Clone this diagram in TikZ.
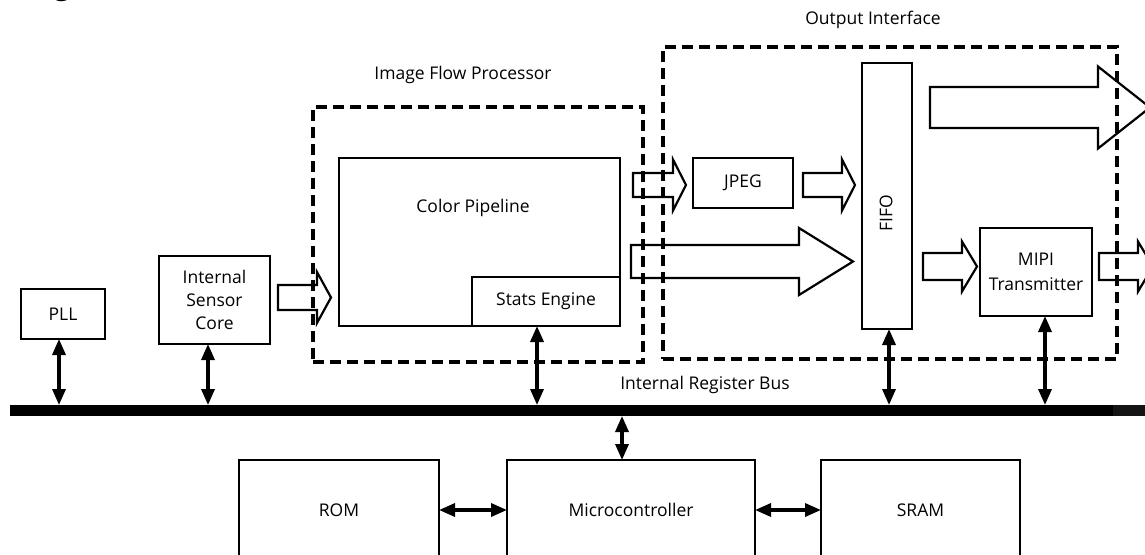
\documentclass[tikz,border=0pt]{standalone}
\usepackage{fontspec}
\setmainfont{Open Sans}
\usetikzlibrary{arrows.meta,calc}
\newcommand{\hollowarr}[5]{% #1 start, #2 tip, #3 shaft half, #4 head half, #5 head length
  \draw[hollow] ($(#1)+(0,-#3)$) -- ($(#2)+(-#5,-#3)$) -- ($(#2)+(-#5,-#4)$) -- (#2)
    -- ($(#2)+(-#5,#4)$) -- ($(#2)+(-#5,#3)$) -- ($(#1)+(0,#3)$) -- cycle;}
\begin{document}
\begin{tikzpicture}[x=1pt,y=-1pt,
  txt/.style={font=\fontsize{17.5}{23}\selectfont, inner sep=0pt, align=center},
  box/.style={draw, line width=2.2pt, inner sep=0pt, outer sep=0pt, align=center,
              font=\fontsize{17.5}{23}\selectfont},
  group/.style={draw, line width=3.6pt, dash pattern=on 11pt off 6pt, inner sep=0pt, outer sep=0pt},
  busarrow/.style={line width=3.4pt, {Triangle[length=16pt,width=13pt]}-{Triangle[length=16pt,width=13pt]}},
  hollow/.style={draw, line width=2.2pt, line join=miter}]
\useasboundingbox (0,0) rectangle (1145,554);

% fragment of title above the picture
\node[anchor=base, font=\fontsize{30}{32}\selectfont, inner sep=0pt] (title) at (62,-5.5) {g};

% groups
\node[group, minimum width=330, minimum height=255] (ifp) at (478,234.5) {};
\node[txt] (ifplabel) at (463,75) {Image Flow Processor};
\node[group, minimum width=454, minimum height=312] (oif) at (890,203) {};
\node[txt] (oiflabel) at (873,20) {Output Interface};

% blocks
\node[box, minimum width=84, minimum height=50] (pll) at (63,314) {PLL};
\node[box, minimum width=111, minimum height=88] (isc) at (214.5,300) {Internal\\Sensor\\Core};
\node[box, minimum width=281, minimum height=168] (cp) at (479.5,242) {};
\node[txt] (cptext) at (473,208) {Color Pipeline};
\node[box, minimum width=148, minimum height=49] (stats) at (546,301.5) {Stats Engine};
\node[box, minimum width=100, minimum height=50] (jpeg) at (743,183) {JPEG};
\node[box, minimum width=50, minimum height=266] (fifo) at (887,196) {};
\node[txt, rotate=90] (fifotext) at (886,213) {FIFO};
\node[box, minimum width=112, minimum height=88, font=\fontsize{17.5}{25}\selectfont] (mipi) at (1036,272) {MIPI\\Transmitter};

\node[box, minimum width=200, minimum height=100] (rom) at (339,510) {ROM};
\node[box, minimum width=248, minimum height=100] (micro) at (631,510) {Microcontroller};
\node[box, minimum width=199, minimum height=100] (sram) at (920.5,510) {SRAM};

% bus
\node[fill=black, minimum width=1103, minimum height=11, inner sep=0pt, outer sep=0pt] (bus) at (561.5,410.5) {};
\fill[black!92] (bus.north east) rectangle (1145,416);
\node[txt] (buslabel) at (705,385) {Internal Register Bus};

% bus connections
\coordinate (xpll) at (59,0);
\coordinate (xisc) at (208,0);
\coordinate (xstats) at (537,0);
\coordinate (xfifo) at (889,0);
\coordinate (xmipi) at (1045,0);
\coordinate (xmicro) at (622,0);
\draw[busarrow] (pll.south -| xpll) -- (bus.north -| xpll);
\draw[busarrow] (isc.south -| xisc) -- (bus.north -| xisc);
\draw[busarrow] (stats.south -| xstats) -- (bus.north -| xstats);
\draw[busarrow] (fifo.south -| xfifo) -- (bus.north -| xfifo);
\draw[busarrow] (mipi.south -| xmipi) -- (bus.north -| xmipi);
\draw[busarrow] (bus.south -| xmicro) -- (micro.north -| xmicro);
\draw[busarrow] (rom.east) -- (micro.west);
\draw[busarrow] (micro.east) -- (sram.west);

% hollow data-flow arrows
\coordinate (a1s) at ($(isc.east)+(8,-2.5)$);
\coordinate (a1e) at ($(cp.west |- a1s)+(-8,0)$);
\hollowarr{a1s}{a1e}{12.5}{25.5}{14}
\coordinate (a2s) at (633,185);
\coordinate (a2e) at ($(jpeg.west |- a2s)+(-7,0)$);
\hollowarr{a2s}{a2e}{12}{25.5}{13}
\coordinate (a3s) at ($(jpeg.east |- a2s)+(10,0)$);
\coordinate (a3e) at ($(fifo.west |- a2s)+(-7,0)$);
\hollowarr{a3s}{a3e}{12}{25.5}{13}
\coordinate (a4s) at (631,261.5);
\coordinate (a4e) at ($(fifo.west |- a4s)+(-9,0)$);
\hollowarr{a4s}{a4e}{16.5}{33.5}{54}
\coordinate (a5s) at ($(fifo.east)+(11,70.5)$);
\coordinate (a5e) at ($(mipi.west |- a5s)+(-3,0)$);
\hollowarr{a5s}{a5e}{13.5}{25}{15}
\coordinate (a6s) at ($(mipi.east |- a5s)+(7,0)$);
\coordinate (a6e) at (1153,266.5);
\hollowarr{a6s}{a6e}{13.5}{25}{15}
\coordinate (a7s) at ($(fifo.east)+(18,-88.5)$);
\coordinate (a7e) at (1150,107.5);
\hollowarr{a7s}{a7e}{20.5}{41}{52}
\end{tikzpicture}
\end{document}
